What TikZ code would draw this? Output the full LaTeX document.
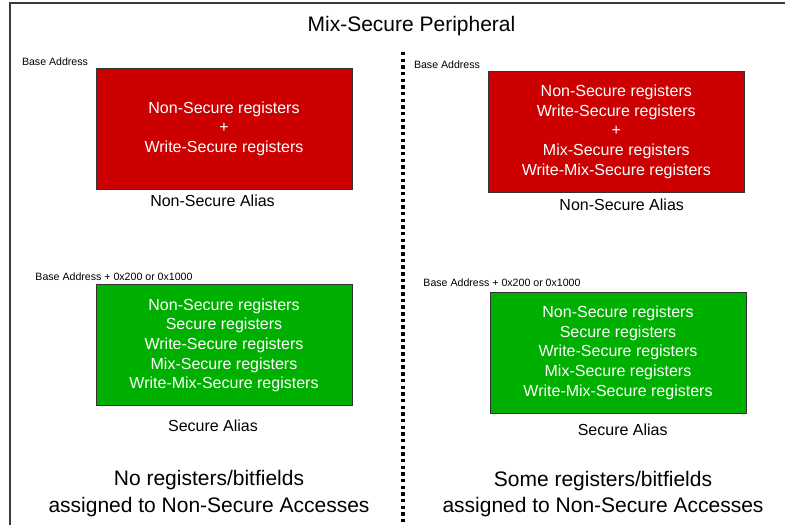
\documentclass[tikz,border=0pt]{standalone}
\usepackage{fontspec}
\setmainfont{Liberation Sans}
\usepackage{xcolor}
\usepackage{tikz}

\definecolor{regred}{HTML}{CC0000}
\definecolor{reggreen}{HTML}{00B000}
\definecolor{framegray}{HTML}{3A3A3A}

\begin{document}
\begin{tikzpicture}[x=1pt, y=-1pt,
		regbox/.style={draw=black!80, line width=0.8pt, text=white, align=center, inner sep=0pt,
			minimum width=256pt, minimum height=121pt, font=\fontsize{16}{19.6}\selectfont},
		alias/.style={anchor=base, font=\fontsize{16}{19}\selectfont},
		addr/.style={anchor=base, font=\fontsize{10.6}{12}\selectfont},
		note/.style={anchor=base, font=\fontsize{21}{25}\selectfont}]
			\useasboundingbox (0,0) rectangle (785,525);
			\clip (0,0) rectangle (785,525);

			\draw[color=framegray, line width=2pt] (10,3) rectangle (800,540);
			\node[note] (title) at (411.5,31.7) {Mix-Secure Peripheral};

			\coordinate (d0) at (402.7,52);
			\coordinate (d1) at (402.7,530);
			\draw[color=black, line width=3.6pt, dash pattern=on 3.4pt off 3.27pt] (d0) -- (d1);

			% left half
			\node[addr] (baseL) at (55,65.5) {Base Address};
			\node[regbox, fill=regred] (nsL) at (224,128.5)
				{Non-Secure registers\\+\\Write-Secure registers};
			\node[alias] (nsaL) at (212.5,206.7) {Non-Secure Alias};

			\node[addr] (offL) at (114,280.5) {Base Address + 0x200 or 0x1000};
			\node[regbox, fill=reggreen] (sL) at (224,345.3)
				{Non-Secure registers\\Secure registers\\Write-Secure registers\\Mix-Secure registers\\Write-Mix-Secure registers};
			\node[alias] (saL) at (213,431.5) {Secure Alias};

			\node[note] (noteL1) at (209,485.5) {No registers/bitfields};
			\node[note] (noteL2) at (209,512.5) {assigned to Non-Secure Accesses};

			% right half
			\node[addr] (baseR) at (447,68.5) {Base Address};
			\node[regbox, fill=regred] (nsR) at (616.3,131.7)
				{Non-Secure registers\\Write-Secure registers\\+\\Mix-Secure registers\\Write-Mix-Secure registers};
			\node[alias] (nsaR) at (621.7,210) {Non-Secure Alias};

			\node[addr] (offR) at (502,286.5) {Base Address + 0x200 or 0x1000};
			\node[regbox, fill=reggreen] (sR) at (618,352.8)
				{Non-Secure registers\\Secure registers\\Write-Secure registers\\Mix-Secure registers\\Write-Mix-Secure registers};
			\node[alias] (saR) at (622.7,435) {Secure Alias};

			\node[note] (noteR1) at (603,486.7) {Some registers/bitfields};
			\node[note] (noteR2) at (603,512.7) {assigned to Non-Secure Accesses};
		\end{tikzpicture}
\end{document}
